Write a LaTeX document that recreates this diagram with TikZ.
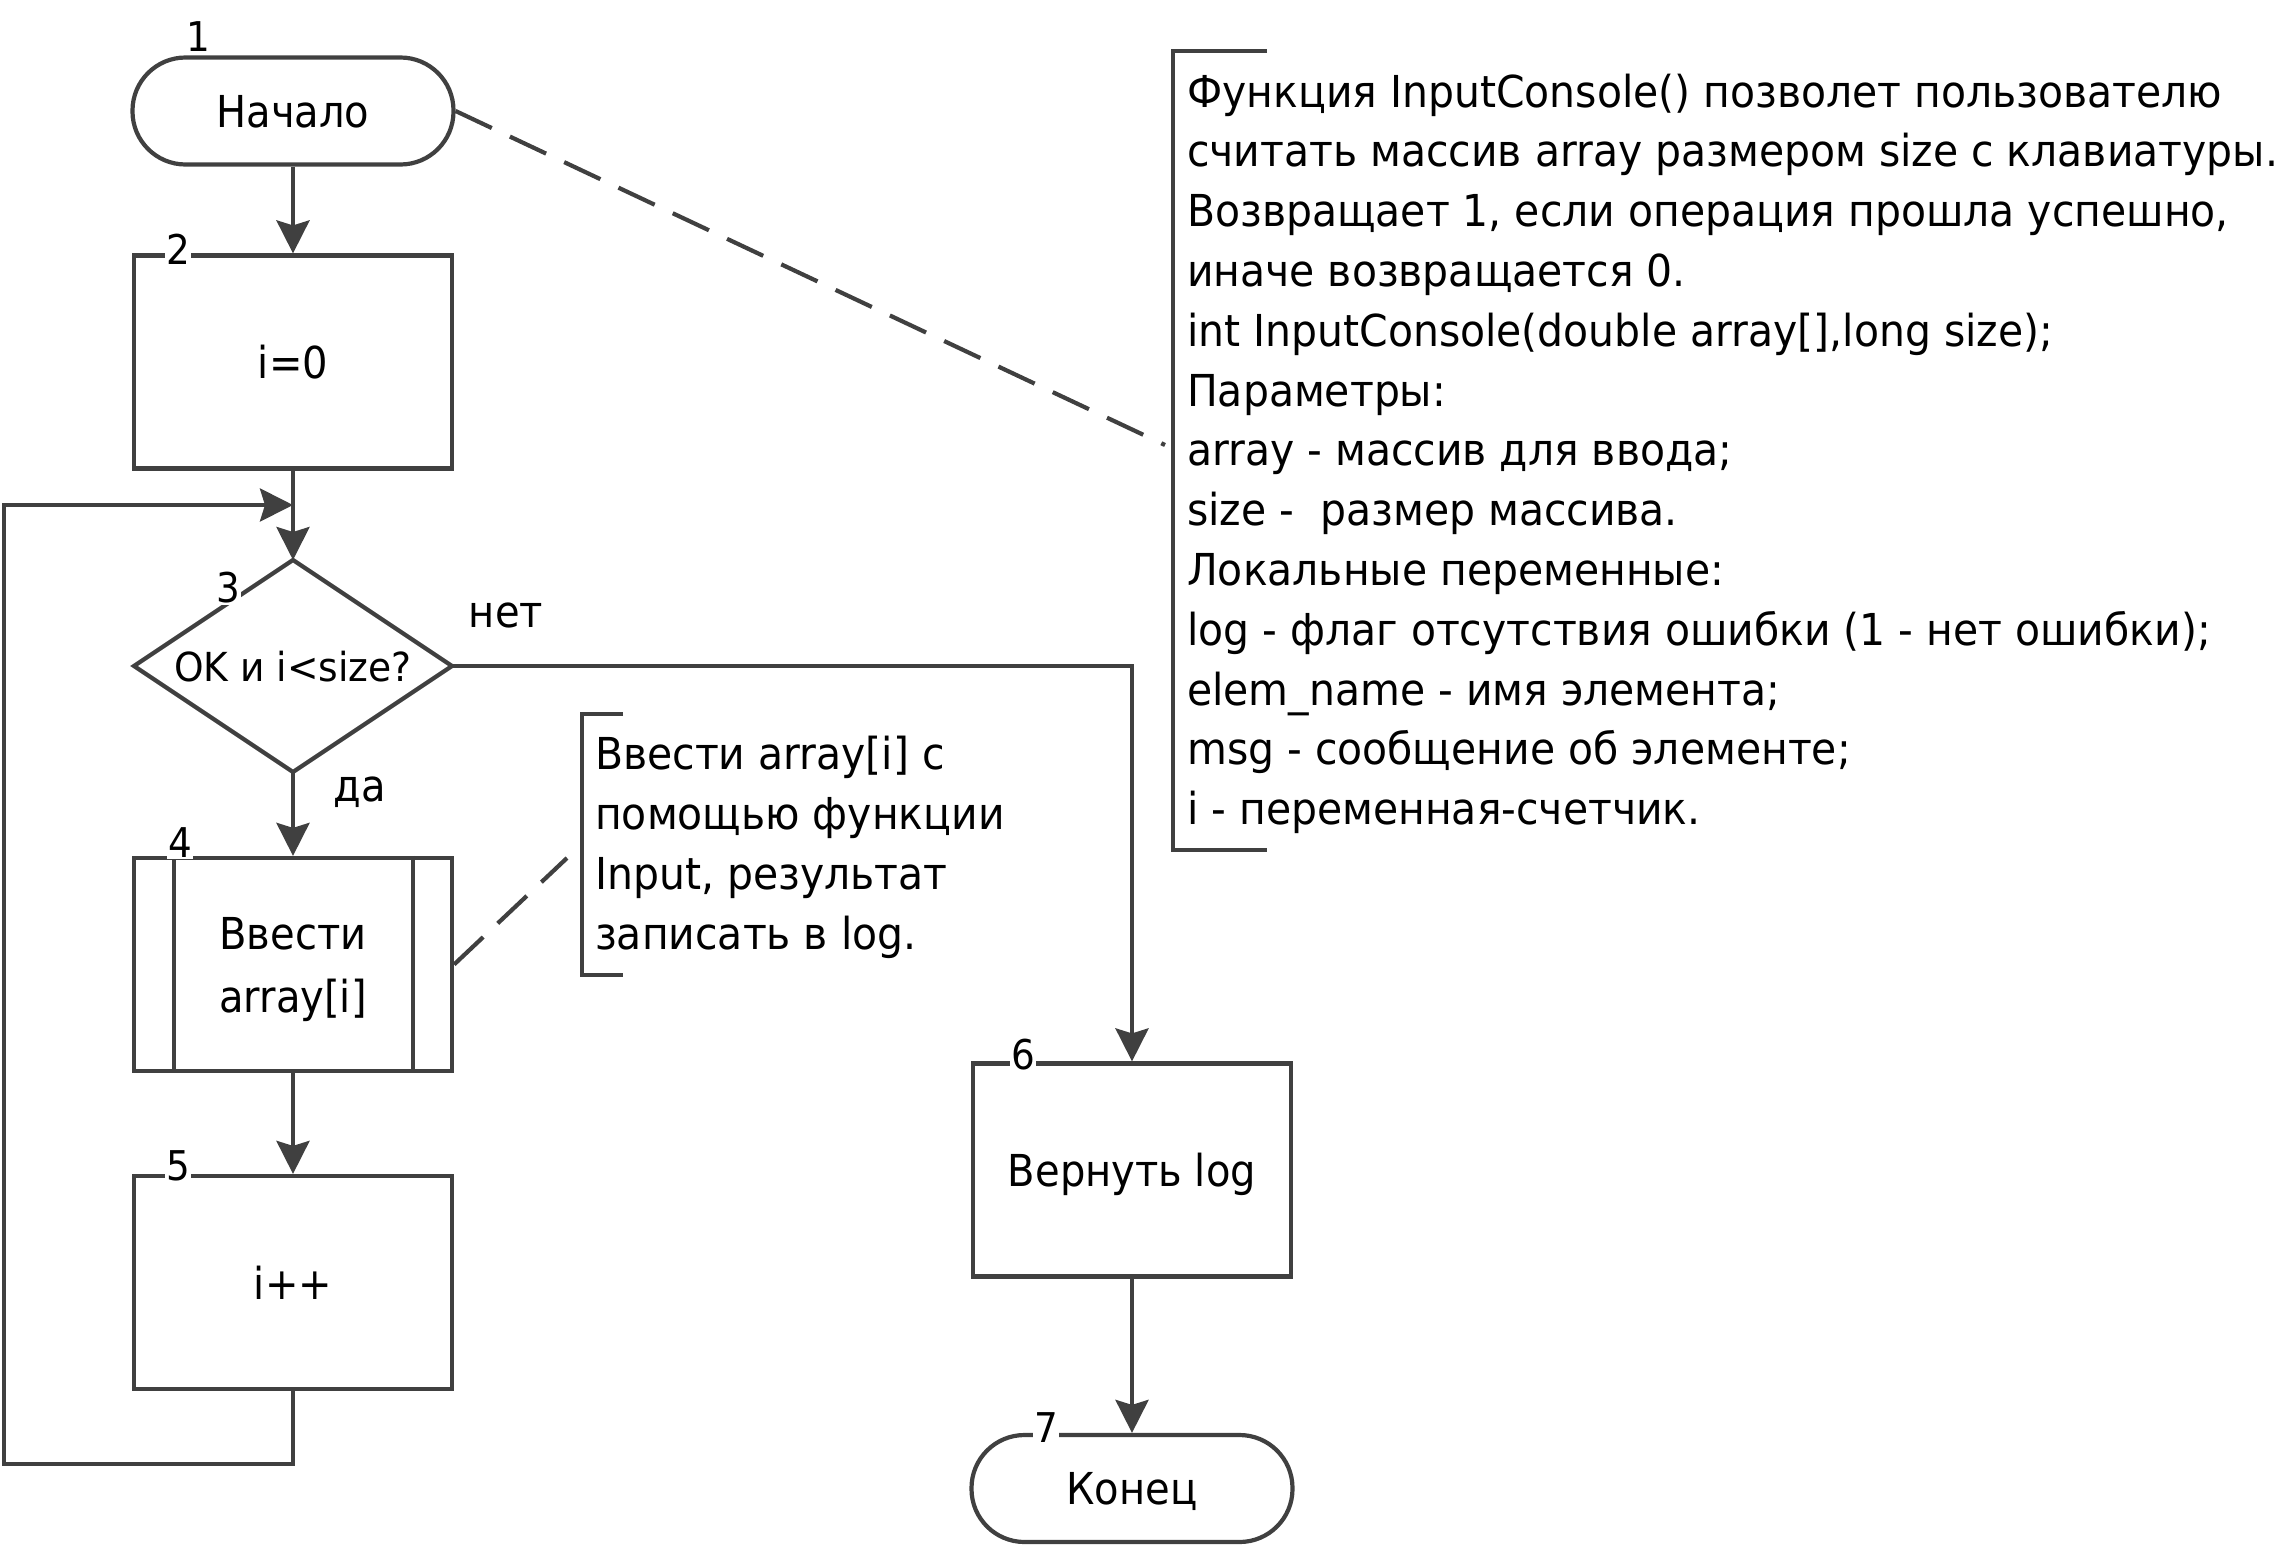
\documentclass[tikz,border=0pt]{standalone}
\usepackage{fontspec}
\setmainfont{DejaVu Sans}[FakeStretch=0.91]
\newfontfamily\cmtfont{DejaVu Sans}[FakeStretch=0.93]
\newfontfamily\decfont{DejaVu Sans}[FakeStretch=0.94]
\usetikzlibrary{arrows.meta}
\definecolor{ln}{HTML}{404040}
\begin{document}
\begin{tikzpicture}[x=1pt,y=-1pt,
  every node/.style={font=\fontsize{44pt}{60pt}\selectfont, text=black},
  shp/.style={draw=ln, line width=4.2pt, minimum width=318pt, inner sep=0pt, text depth=0pt, align=center},
  procbox/.style={shp, rectangle, minimum height=213pt},
  termbox/.style={shp, rectangle, rounded corners=53pt, minimum height=107pt, minimum width=321pt},
  decarea/.style={rectangle, minimum width=318pt, minimum height=212pt, inner sep=0pt, outer sep=0pt, text depth=0pt,
    font=\decfont\fontsize{40pt}{44pt}\selectfont},
  numlbl/.style={fill=white, inner sep=1pt, font=\fontsize{41pt}{41pt}\selectfont},
  conn/.style={draw=ln, line width=4.2pt, line join=miter, -{Stealth[length=33pt,width=33pt,inset=5pt]}},
  plain/.style={draw=ln, line width=4.2pt, line join=miter},
  note/.style={draw=ln, line width=4.2pt, dash pattern=on 40pt off 20pt},
  cmt/.style={anchor=base west, inner sep=0pt, font=\cmtfont\fontsize{44pt}{60pt}\selectfont},
  brk/.style={draw=ln, line width=4.2pt, line join=miter}
]
\useasboundingbox (0,0) rectangle (2295,1545);

% shapes
\node[termbox] (st) at (293,111) {Начало};
\node[procbox] (b2) at (293,362) {i=0};
\node[decarea] (d3) at (293,666) {OK и i<size?};
\draw[plain] (d3.north) -- (d3.east) -- (d3.south) -- (d3.west) -- cycle;
\node[procbox] (b4) at (293,964.5) {Ввести\\[3pt]array[i]};
\node[procbox] (b5) at (293,1282.5) {i++};
\node[procbox] (b6) at (1132,1170) {Вернуть log};
\node[termbox] (en) at (1132,1488.5) {Конец};

% predefined process inner lines
\draw[plain] ([xshift=42pt]b4.north west) -- ([xshift=42pt]b4.south west);
\draw[plain] ([xshift=-41pt]b4.north east) -- ([xshift=-41pt]b4.south east);

% number labels
\node[numlbl] (n1) at (198,37) {1};
\node[numlbl] (n2) at (178,249) {2};
\node[numlbl] (n3) at (228,588) {3};
\node[numlbl] (n4) at (180,843) {4};
\node[numlbl] (n5) at (178,1166) {5};
\node[numlbl] (n6) at (1023,1055) {6};
\node[numlbl] (n7) at (1046,1428) {7};

% connectors
\coordinate (lpb) at (4,1464);
\coordinate (mrg) at (293,505);
\draw[conn] (st) -- (b2);
\draw[conn] (b2) -- (d3);
\draw[conn] (d3) -- (b4);
\draw[conn] (b4) -- (b5);
\draw[conn] (b5.south) |- (lpb) |- (mrg);
\draw[conn] (d3.east) -| (b6.north);
\draw[conn] (b6) -- (en);

\node[inner sep=0pt] (lno) at (506,615) {нет};
\node[inner sep=0pt] (lyes) at (360,792) {да};

% comment 1
\draw[brk] (1267,50.7) -- (1173,50.7) -- (1173,850) -- (1267,850);
\coordinate (c1) at (1165,445);
\draw[note] (st.east) -- (c1);
\foreach \t [count=\i] in {
  {Функция InputConsole() позволет пользователю},
  {считать массив array размером size с клавиатуры.},
  {Возвращает 1, если операция прошла успешно,},
  {иначе возвращается 0.},
  {int InputConsole(double array[],long size);},
  {Параметры:},
  {array - массив для ввода;},
  {size -\ \ размер массива.},
  {Локальные переменные:},
  {log - флаг отсутствия ошибки (1 - нет ошибки);},
  {elem\_name - имя элемента;},
  {msg - сообщение об элементе;},
  {i - переменная-счетчик.}}
  \node[cmt] (ca\i) at (1187,{107+59.8*(\i-1)}) {\t};

% comment 2
\draw[brk] (623,714) -- (582,714) -- (582,975) -- (623,975);
\coordinate (c2) at (567,858);
\draw[note] (b4.east) -- (c2);
\foreach \t [count=\i] in {
  {Ввести array[i] с},
  {помощью функции},
  {Input, результат},
  {записать в log.}}
  \node[cmt] (cb\i) at (595,{769+60*(\i-1)}) {\t};
\end{tikzpicture}
\end{document}
